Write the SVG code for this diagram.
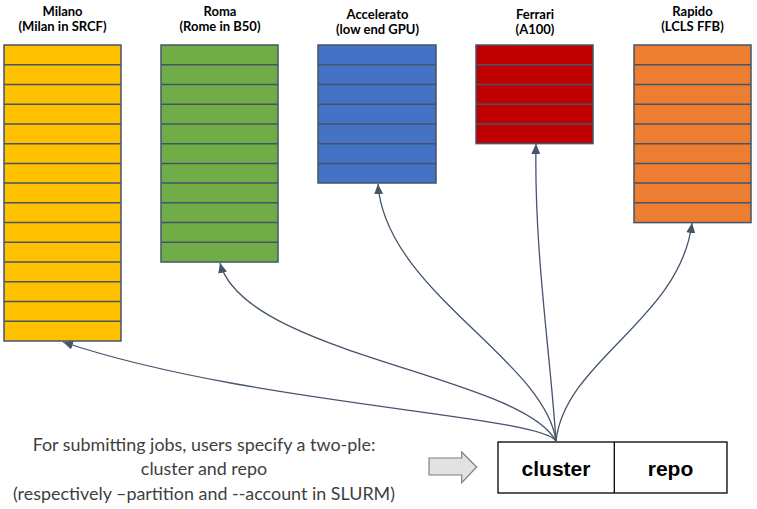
<svg xmlns="http://www.w3.org/2000/svg" width="757" height="509" viewBox="0 0 757 509">
<style>
.lbl{font-family:Lato,"Liberation Sans",sans-serif;font-weight:bold;font-size:13px;fill:#000;text-anchor:middle}
.box{stroke:#44546A;stroke-width:1.5}
.sep{stroke:#44546A;stroke-width:1.5;fill:none}
.conn{fill:none;stroke:#44546A;stroke-width:1.3;marker-end:url(#ah)}
.note{font-family:Lato,"Liberation Sans",sans-serif;font-size:17.9px;fill:#3F3F3F;text-anchor:middle}
.key{font-family:"Liberation Sans",Arial,sans-serif;font-weight:bold;font-size:21px;fill:#000;text-anchor:middle}
</style>
<defs>
<marker id="ah" markerUnits="userSpaceOnUse" markerWidth="11" markerHeight="9" refX="10" refY="4.5" orient="auto">
<path d="M0,0 L10,4.5 L0,9 z" fill="#44546A"/>
</marker>
</defs>
<rect width="757" height="509" fill="#fff"/>
<g id="milano">
<text class="lbl" x="62.5" y="16">Milano</text>
<text class="lbl" x="62.5" y="31">(Milan in SRCF)</text>
<rect class="box" x="4" y="45" width="117" height="296" fill="#FFC000"/>
<path class="sep" d="M4,64.73H121M4,84.46H121M4,104.19H121M4,123.92H121M4,143.65H121M4,163.38H121M4,183.11H121M4,202.84H121M4,222.57H121M4,242.3H121M4,262.03H121M4,281.76H121M4,301.49H121M4,321.22H121"/>
</g>
<g id="roma">
<text class="lbl" x="220" y="16">Roma</text>
<text class="lbl" x="220" y="31">(Rome in B50)</text>
<rect class="box" x="161" y="45" width="117" height="217" fill="#70AD47"/>
<path class="sep" d="M161,64.73H278M161,84.46H278M161,104.19H278M161,123.92H278M161,143.65H278M161,163.38H278M161,183.11H278M161,202.84H278M161,222.57H278M161,242.3H278"/>
</g>
<g id="accelerato">
<text class="lbl" x="377.5" y="19">Accelerato</text>
<text class="lbl" x="377.5" y="34">(low end GPU)</text>
<rect class="box" x="318" y="45" width="118" height="138" fill="#4472C4"/>
<path class="sep" d="M318,64.73H436M318,84.46H436M318,104.19H436M318,123.92H436M318,143.65H436M318,163.38H436"/>
</g>
<g id="ferrari">
<text class="lbl" x="535" y="19">Ferrari</text>
<text class="lbl" x="535" y="34">(A100)</text>
<rect class="box" x="476" y="45" width="117" height="98.6" fill="#C00000"/>
<path class="sep" d="M476,64.73H593M476,84.46H593M476,104.19H593M476,123.92H593"/>
</g>
<g id="rapido">
<text class="lbl" x="692.5" y="16">Rapido</text>
<text class="lbl" x="692.5" y="31">(LCLS FFB)</text>
<rect class="box" x="634" y="45" width="117" height="177.6" fill="#ED7D31"/>
<path class="sep" d="M634,64.73H751M634,84.46H751M634,104.19H751M634,123.92H751M634,143.65H751M634,163.38H751M634,183.11H751M634,202.84H751"/>
</g>
<g id="connectors">
<path class="conn" d="M556,441 C540,415 250,405 63,342"/>
<path class="conn" d="M556,441 C520,375 245,355 220,263"/>
<path class="conn" d="M556,441 C545,360 385,290 378,184"/>
<path class="conn" d="M556,441 C550,350 534,250 536,144"/>
<path class="conn" d="M556,441 C565,360 680,320 692,223"/>
</g>
<g id="note">
<text class="note" x="204" y="451">For submitting jobs, users specify a two-ple:</text>
<text class="note" x="204" y="475">cluster and repo</text>
<text class="note" x="204" y="500">(respectively –partition and --account in SLURM)</text>
</g>
<g id="pointer">
<path d="M429,458 H461.7 V452 L476.7,467 L461.7,482.7 V475 H429 z" fill="#E2E2E2" stroke="#808080" stroke-width="1.2"/>
</g>
<g id="tuple">
<rect x="498" y="442" width="229" height="51" fill="#fff" stroke="#000" stroke-width="1.3"/>
<line x1="614.3" y1="442" x2="614.3" y2="493" stroke="#000" stroke-width="1.3"/>
<text class="key" x="556" y="476">cluster</text>
<text class="key" x="670.5" y="476">repo</text>
</g>
</svg>
